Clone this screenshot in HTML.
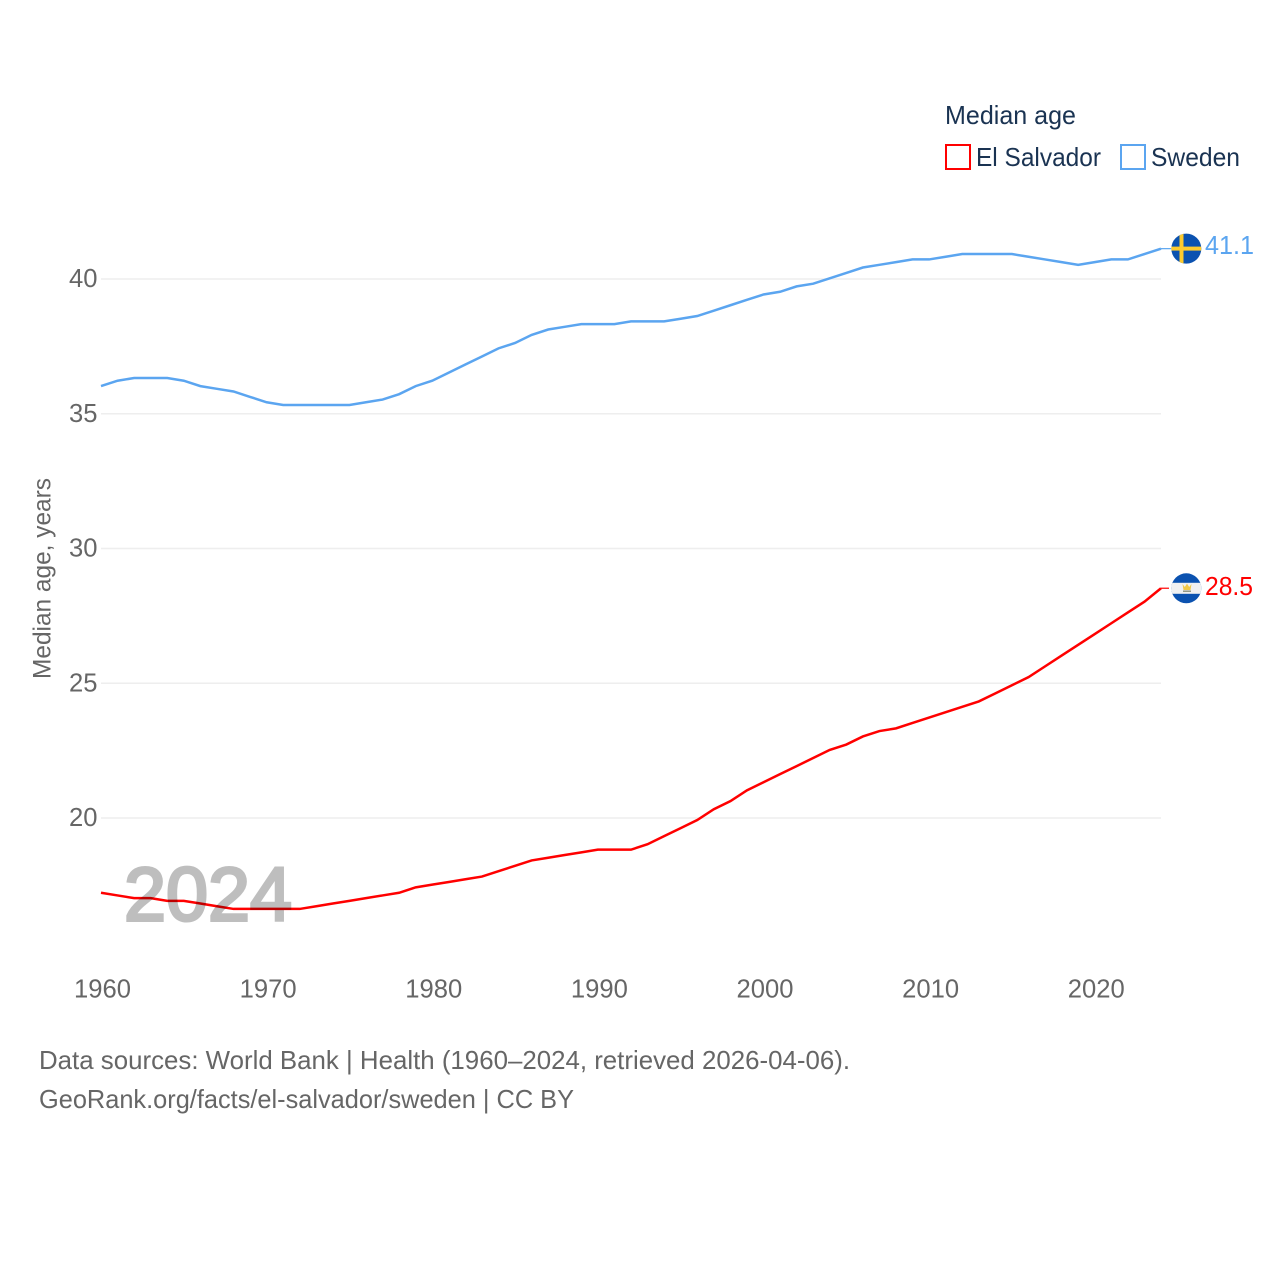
<!DOCTYPE html>
<html lang="en">
<head>
<meta charset="utf-8">
<title>Median age: El Salvador and Sweden</title>
<style>
  html, body { margin: 0; padding: 0; background: #ffffff; }
  svg { display: block; font-family: "Liberation Sans", sans-serif; }
  .tick { font-size: 25.6px; fill: #666666; }
  .foot { font-size: 26px; fill: #666666; }
  .leg { font-size: 26px; fill: #1a3352; }
</style>
</head>
<body>
<svg id="chart" xmlns="http://www.w3.org/2000/svg" width="1280" height="1280" viewBox="0 0 1280 1280">
  <defs>
    <clipPath id="clip-se"><circle cx="1186.3" cy="248.6" r="15"/></clipPath>
    <clipPath id="clip-sv"><circle cx="1186.3" cy="588.3" r="15"/></clipPath>
  </defs>
  <rect x="0" y="0" width="1280" height="1280" fill="#ffffff"/>
  <g id="grid"></g>
  <g id="yticks"></g>
  <g id="xticks"></g>
  <text transform="translate(50.5,679) rotate(-90)" font-size="25" fill="#666666" textLength="201" lengthAdjust="spacingAndGlyphs">Median age, years</text>
  <g id="series"></g>
  <text x="124" y="920.5" font-size="76" fill="#000000" stroke="#000000" stroke-width="3" opacity="0.25" textLength="168" lengthAdjust="spacingAndGlyphs">2024</text>

  <g>
    <text class="leg" x="945" y="124" textLength="131" lengthAdjust="spacingAndGlyphs">Median age</text>
    <g>
      <rect x="946" y="145" width="24" height="24" fill="#ffffff" stroke="#ff0000" stroke-width="2"/>
      <text class="leg" x="976" y="166" textLength="125" lengthAdjust="spacingAndGlyphs">El Salvador</text>
    </g>
    <g>
      <rect x="1121" y="145" width="24" height="24" fill="#ffffff" stroke="#5ba5f0" stroke-width="2"/>
      <text class="leg" x="1151" y="166" textLength="89" lengthAdjust="spacingAndGlyphs">Sweden</text>
    </g>
  </g>

  <g id="connectors"></g>

  <g clip-path="url(#clip-se)">
    <rect x="1171" y="233" width="31" height="31" fill="#0b52b0"/>
    <rect x="1179.5" y="233" width="4" height="31" fill="#fdcb2e"/>
    <rect x="1171" y="246.6" width="31" height="4" fill="#fdcb2e"/>
  </g>
  <g clip-path="url(#clip-sv)">
    <rect x="1171" y="573" width="31" height="31" fill="#0b52b0"/>
    <rect x="1171" y="582.8" width="31" height="11" fill="#f1f1f1"/>
    <path d="M1182.5 584 L1184.8 587 L1187 583.6 L1189.2 587 L1191.5 584 L1190.5 590 L1183.5 590 Z" fill="#f0c94a"/>
    <rect x="1183" y="590.5" width="8" height="1.4" fill="#8a8f7a"/>
  </g>

  <text id="label-se" x="1205" y="254" font-size="26" fill="#5ba5f0" textLength="49" lengthAdjust="spacingAndGlyphs"></text>
  <text id="label-sv" x="1205" y="595" font-size="26" fill="#ff0000" textLength="48" lengthAdjust="spacingAndGlyphs"></text>

  <text class="foot" x="39" y="1069" textLength="811" lengthAdjust="spacingAndGlyphs">Data sources: World Bank | Health (1960–2024, retrieved 2026-04-06).</text>
  <text class="foot" x="39" y="1108" textLength="535" lengthAdjust="spacingAndGlyphs">GeoRank.org/facts/el-salvador/sweden | CC BY</text>
</svg>
<script>
const startYear = 1960;
const yTickValues = [20, 25, 30, 35, 40];
const xTickValues = [1960, 1970, 1980, 1990, 2000, 2010, 2020];
const swedenValues = [
  36.0, 36.2, 36.3, 36.3, 36.3, 36.2, 36.0, 35.9, 35.8, 35.6,
  35.4, 35.3, 35.3, 35.3, 35.3, 35.3, 35.4, 35.5, 35.7, 36.0,
  36.2, 36.5, 36.8, 37.1, 37.4, 37.6, 37.9, 38.1, 38.2, 38.3,
  38.3, 38.3, 38.4, 38.4, 38.4, 38.5, 38.6, 38.8, 39.0, 39.2,
  39.4, 39.5, 39.7, 39.8, 40.0, 40.2, 40.4, 40.5, 40.6, 40.7,
  40.7, 40.8, 40.9, 40.9, 40.9, 40.9, 40.8, 40.7, 40.6, 40.5,
  40.6, 40.7, 40.7, 40.9, 41.1
];
const elSalvadorValues = [
  17.2, 17.1, 17.0, 17.0, 16.9, 16.9, 16.8, 16.7, 16.6, 16.6,
  16.6, 16.6, 16.6, 16.7, 16.8, 16.9, 17.0, 17.1, 17.2, 17.4,
  17.5, 17.6, 17.7, 17.8, 18.0, 18.2, 18.4, 18.5, 18.6, 18.7,
  18.8, 18.8, 18.8, 19.0, 19.3, 19.6, 19.9, 20.3, 20.6, 21.0,
  21.3, 21.6, 21.9, 22.2, 22.5, 22.7, 23.0, 23.2, 23.3, 23.5,
  23.7, 23.9, 24.1, 24.3, 24.6, 24.9, 25.2, 25.6, 26.0, 26.4,
  26.8, 27.2, 27.6, 28.0, 28.5
];

const NS = 'http://www.w3.org/2000/svg';
const xOf = function (year) { return 101 + (year - 1960) * 16.5625; };
const yOf = function (v) { return 279 + (40 - v) * 26.95; };
const lineY = function (v) { return yOf(v) - 0.7; };
const flagEdge = 1171;

const gridGroup = document.getElementById('grid');
const yGroup = document.getElementById('yticks');
const xGroup = document.getElementById('xticks');
const seriesGroup = document.getElementById('series');
const connectorGroup = document.getElementById('connectors');

yTickValues.forEach(function (v) {
  const line = document.createElementNS(NS, 'line');
  
  
  line.setAttribute('x1', xOf(1960));
  line.setAttribute('x2', xOf(2024));
  line.setAttribute('y1', yOf(v));
  line.setAttribute('y2', yOf(v));
  line.setAttribute('stroke', '#eeeeee');
  line.setAttribute('stroke-width', '1.5');
  gridGroup.appendChild(line);

  const label = document.createElementNS(NS, 'text');
  
  
  label.setAttribute('class', 'tick');
  label.setAttribute('x', 97.5);
  label.setAttribute('y', yOf(v) + 8);
  label.setAttribute('text-anchor', 'end');
  label.textContent = String(v);
  yGroup.appendChild(label);
});

xTickValues.forEach(function (year) {
  const label = document.createElementNS(NS, 'text');
  
  
  label.setAttribute('class', 'tick');
  label.setAttribute('x', xOf(year) + 1.5);
  label.setAttribute('y', 997.5);
  label.setAttribute('text-anchor', 'middle');
  label.textContent = String(year);
  xGroup.appendChild(label);
});

function buildPoints(values) {
  return values.map(function (v, i) {
    return xOf(startYear + i).toFixed(2) + ',' + lineY(v).toFixed(2);
  }).join(' ');
}

const swedenLine = document.createElementNS(NS, 'polyline');


swedenLine.setAttribute('points', buildPoints(swedenValues));
swedenLine.setAttribute('fill', 'none');
swedenLine.setAttribute('stroke', '#5ba5f0');
swedenLine.setAttribute('stroke-width', '2.5');
seriesGroup.appendChild(swedenLine);

const salvadorLine = document.createElementNS(NS, 'polyline');


salvadorLine.setAttribute('points', buildPoints(elSalvadorValues));
salvadorLine.setAttribute('fill', 'none');
salvadorLine.setAttribute('stroke', '#ff0000');
salvadorLine.setAttribute('stroke-width', '2.5');
seriesGroup.appendChild(salvadorLine);

const swedenConnector = document.createElementNS(NS, 'line');


swedenConnector.setAttribute('x1', xOf(2024));
swedenConnector.setAttribute('x2', flagEdge);
swedenConnector.setAttribute('y1', lineY(swedenValues[swedenValues.length - 1]));
swedenConnector.setAttribute('y2', lineY(swedenValues[swedenValues.length - 1]));
swedenConnector.setAttribute('stroke', '#5ba5f0');
swedenConnector.setAttribute('stroke-width', '1.2');
connectorGroup.appendChild(swedenConnector);

const salvadorConnector = document.createElementNS(NS, 'line');


salvadorConnector.setAttribute('x1', xOf(2024));
salvadorConnector.setAttribute('x2', flagEdge - 2);
salvadorConnector.setAttribute('y1', lineY(elSalvadorValues[elSalvadorValues.length - 1]));
salvadorConnector.setAttribute('y2', lineY(elSalvadorValues[elSalvadorValues.length - 1]));
salvadorConnector.setAttribute('stroke', '#ff0000');
salvadorConnector.setAttribute('stroke-width', '1.2');
connectorGroup.appendChild(salvadorConnector);

document.getElementById('label-se').textContent = swedenValues[swedenValues.length - 1].toFixed(1);
document.getElementById('label-sv').textContent = elSalvadorValues[elSalvadorValues.length - 1].toFixed(1);
</script>
</body>
</html>
